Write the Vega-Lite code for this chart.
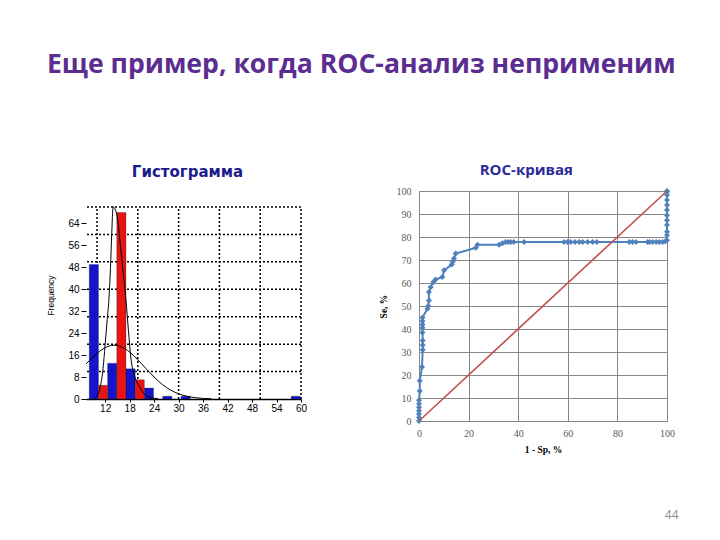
{
  "$schema": "https://vega.github.io/schema/vega-lite/v6.json",
  "background": "white",
  "padding": {"left": 46, "top": 52, "right": 0, "bottom": 0},
  "title": {
    "text": "Еще пример, когда ROC-анализ неприменим",
    "font": "Open Sans",
    "fontSize": 26.6,
    "fontWeight": "bold",
    "color": "#5b2d90",
    "anchor": "start",
    "frame": "bounds",
    "offset": 84
  },
  "datasets": {
    "hist": [
      {"start": 8.1, "end": 10.35, "count": 49, "group": "A"},
      {"start": 12.6, "end": 14.85, "count": 13, "group": "A"},
      {"start": 17.1, "end": 19.35, "count": 11, "group": "A"},
      {"start": 21.6, "end": 23.85, "count": 4, "group": "A"},
      {"start": 26.1, "end": 28.35, "count": 1, "group": "A"},
      {"start": 30.6, "end": 32.85, "count": 1, "group": "A"},
      {"start": 57.6, "end": 59.85, "count": 1, "group": "A"},
      {"start": 10.35, "end": 12.6, "count": 5, "group": "B"},
      {"start": 14.85, "end": 17.1, "count": 68, "group": "B"},
      {"start": 19.35, "end": 21.6, "count": 7, "group": "B"}
    ],
    "curves": [
      {"x": 7.3, "y": 12.8, "curve": "A"},
      {"x": 9, "y": 15.2, "curve": "A"},
      {"x": 11, "y": 17.8, "curve": "A"},
      {"x": 13, "y": 19.3, "curve": "A"},
      {"x": 14.2, "y": 19.6, "curve": "A"},
      {"x": 16, "y": 19.0, "curve": "A"},
      {"x": 18, "y": 17.1, "curve": "A"},
      {"x": 20, "y": 14.3, "curve": "A"},
      {"x": 22, "y": 11.1, "curve": "A"},
      {"x": 24, "y": 8.0, "curve": "A"},
      {"x": 26, "y": 5.3, "curve": "A"},
      {"x": 28, "y": 3.3, "curve": "A"},
      {"x": 30, "y": 1.9, "curve": "A"},
      {"x": 32, "y": 1.0, "curve": "A"},
      {"x": 34, "y": 0.5, "curve": "A"},
      {"x": 36, "y": 0.2, "curve": "A"},
      {"x": 38, "y": 0.1, "curve": "A"},
      {"x": 9.6, "y": 0.3, "curve": "B"},
      {"x": 10.3, "y": 2, "curve": "B"},
      {"x": 10.8, "y": 4.6, "curve": "B"},
      {"x": 11.4, "y": 10, "curve": "B"},
      {"x": 12.0, "y": 20, "curve": "B"},
      {"x": 12.5, "y": 29, "curve": "B"},
      {"x": 12.9, "y": 36, "curve": "B"},
      {"x": 13.3, "y": 48, "curve": "B"},
      {"x": 13.6, "y": 60, "curve": "B"},
      {"x": 13.95, "y": 70, "curve": "B"},
      {"x": 14.4, "y": 69.3, "curve": "B"},
      {"x": 15.0, "y": 66, "curve": "B"},
      {"x": 15.8, "y": 55, "curve": "B"},
      {"x": 16.5, "y": 45, "curve": "B"},
      {"x": 17.1, "y": 36, "curve": "B"},
      {"x": 17.7, "y": 25, "curve": "B"},
      {"x": 18.3, "y": 15, "curve": "B"},
      {"x": 19.3, "y": 8, "curve": "B"},
      {"x": 20.4, "y": 4.5, "curve": "B"},
      {"x": 21.5, "y": 2, "curve": "B"},
      {"x": 23, "y": 0.6, "curve": "B"},
      {"x": 25, "y": 0.1, "curve": "B"}
    ],
    "gridV": [{"v": 10}, {"v": 20}, {"v": 30}, {"v": 40}, {"v": 50}, {"v": 60}],
    "gridH": [{"h": 10}, {"h": 20}, {"h": 30}, {"h": 40}, {"h": 50}, {"h": 60}, {"h": 70}],
    "roc": [
      {"fpr": 0, "se": 0}, {"fpr": 0, "se": 1.5}, {"fpr": 0, "se": 3}, {"fpr": 0, "se": 4.5},
      {"fpr": 0, "se": 6}, {"fpr": 0, "se": 7.5}, {"fpr": 0, "se": 9}, {"fpr": 0.3, "se": 13},
      {"fpr": 0.3, "se": 17.5}, {"fpr": 1.2, "se": 23.5}, {"fpr": 1.5, "se": 31}, {"fpr": 1.5, "se": 33},
      {"fpr": 1.5, "se": 35}, {"fpr": 1.4, "se": 38.5}, {"fpr": 1.4, "se": 40.5}, {"fpr": 1.4, "se": 42},
      {"fpr": 1.4, "se": 43.5}, {"fpr": 1.4, "se": 45}, {"fpr": 3.4, "se": 48.8}, {"fpr": 3.7, "se": 50},
      {"fpr": 4.0, "se": 52.4}, {"fpr": 4.0, "se": 56.1}, {"fpr": 4.7, "se": 58.2}, {"fpr": 5.8, "se": 60.4},
      {"fpr": 6.7, "se": 61.5}, {"fpr": 9.4, "se": 62.6}, {"fpr": 10.1, "se": 65.5}, {"fpr": 13.2, "se": 68},
      {"fpr": 13.6, "se": 69.2}, {"fpr": 14.1, "se": 70.6}, {"fpr": 14.8, "se": 72.8}, {"fpr": 22.9, "se": 75.3},
      {"fpr": 23.6, "se": 76.6}, {"fpr": 32.3, "se": 76.6}, {"fpr": 33.7, "se": 77.3}, {"fpr": 35.0, "se": 77.8},
      {"fpr": 36.0, "se": 77.8}, {"fpr": 37.0, "se": 77.8}, {"fpr": 38.2, "se": 77.8}, {"fpr": 42.4, "se": 77.8},
      {"fpr": 58.5, "se": 77.8}, {"fpr": 59.9, "se": 77.8}, {"fpr": 61.2, "se": 77.8}, {"fpr": 62.9, "se": 77.8},
      {"fpr": 64.6, "se": 77.8}, {"fpr": 66.0, "se": 77.8}, {"fpr": 68.0, "se": 77.8}, {"fpr": 70.0, "se": 77.8},
      {"fpr": 71.7, "se": 77.8}, {"fpr": 84.8, "se": 77.8}, {"fpr": 86.1, "se": 77.8}, {"fpr": 87.5, "se": 77.8},
      {"fpr": 92.2, "se": 77.8}, {"fpr": 92.9, "se": 77.8}, {"fpr": 94.2, "se": 77.8}, {"fpr": 95.6, "se": 77.8},
      {"fpr": 96.9, "se": 77.8}, {"fpr": 98.3, "se": 77.8}, {"fpr": 99.3, "se": 78.2}, {"fpr": 100, "se": 78.6},
      {"fpr": 100, "se": 80.8}, {"fpr": 100, "se": 82.3}, {"fpr": 100, "se": 85.2}, {"fpr": 100, "se": 87.3},
      {"fpr": 100, "se": 89.5}, {"fpr": 100, "se": 91.7}, {"fpr": 100, "se": 93.9}, {"fpr": 100, "se": 96.1},
      {"fpr": 100, "se": 98.3}, {"fpr": 100, "se": 99.7}, {"fpr": 100, "se": 100}
    ],
    "diag": [{"fpr": 0, "se": 0}, {"fpr": 100, "se": 100}]
  },
  "vconcat": [
    {
      "title": {
        "text": "44",
        "orient": "bottom",
        "anchor": "end",
        "frame": "bounds",
        "font": "Open Sans",
        "fontSize": 12,
        "fontWeight": "normal",
        "color": "#8c8c8c",
        "offset": 56,
        "dx": 4
      },
      "spacing": 71,
      "hconcat": [
        {
          "width": 215,
          "height": 208,
          "title": {
            "text": "Гистограмма",
            "font": "DejaVu Sans",
            "fontSize": 15,
            "fontWeight": "bold",
            "color": "#1c1c8c",
            "anchor": "middle",
            "frame": "group",
            "dx": -6,
            "offset": 11
          },
          "layer": [
            {
              "data": {"name": "gridV"},
              "mark": {"type": "rule", "color": "#000000", "strokeWidth": 1.5, "strokeDash": [2, 2]},
              "encoding": {
                "x": {"field": "v", "type": "quantitative", "scale": {"domain": [7.3, 60], "nice": false, "zero": false}},
                "y": {"datum": 0, "type": "quantitative", "scale": {"domain": [0, 75.83], "nice": false}},
                "y2": {"datum": 70}
              }
            },
            {
              "data": {"name": "gridH"},
              "mark": {"type": "rule", "color": "#000000", "strokeWidth": 1.5, "strokeDash": [2, 2]},
              "encoding": {
                "y": {"field": "h", "type": "quantitative", "scale": {"domain": [0, 75.83], "nice": false}}
              }
            },
            {
              "data": {"name": "hist"},
              "mark": {"type": "bar", "stroke": "#000000", "strokeWidth": 0.5, "strokeOpacity": 0.5},
              "encoding": {
                "x": {
                  "field": "start", "type": "quantitative",
                  "scale": {"domain": [7.3, 60], "nice": false, "zero": false},
                  "axis": {
                    "values": [12, 18, 24, 30, 36, 42, 48, 54, 60], "tickCount": 30,
                    "title": null, "grid": false, "labelOverlap": false,
                    "domainColor": "#000000", "domainWidth": 1.5,
                    "tickColor": "#000000", "tickSize": 3,
                    "labelPadding": 1, "labelFont": "Liberation Sans", "labelFontSize": 10,
                    "labelColor": "#000000"
                  }
                },
                "x2": {"field": "end"},
                "y": {
                  "field": "count", "type": "quantitative",
                  "scale": {"domain": [0, 75.83], "nice": false},
                  "axis": {
                    "values": [0, 8, 16, 24, 32, 40, 48, 56, 64], "tickCount": 30,
                    "title": "Frequency", "grid": false, "labelOverlap": false,
                    "domain": false,
                    "tickColor": "#000000", "tickSize": 5,
                    "labelPadding": 2, "labelFont": "Liberation Sans", "labelFontSize": 10,
                    "labelColor": "#000000",
                    "titleFont": "Liberation Sans", "titleFontSize": 8.5, "titleFontWeight": "normal",
                    "titleColor": "#000000", "titlePadding": 12
                  }
                },
                "y2": {"datum": 0},
                "color": {
                  "field": "group", "type": "nominal",
                  "scale": {"domain": ["A", "B"], "range": ["#1414c8", "#e81414"]},
                  "legend": null
                }
              }
            },
            {
              "mark": {"type": "rule", "color": "#000000", "strokeWidth": 1.5},
              "encoding": {
                "x": {"datum": 7.3, "type": "quantitative", "scale": {"domain": [7.3, 60], "nice": false, "zero": false}},
                "y": {"datum": 0, "type": "quantitative", "scale": {"domain": [0, 75.83], "nice": false}},
                "y2": {"datum": 70}
              }
            },
            {
              "data": {"name": "curves"},
              "mark": {"type": "line", "color": "#000000", "strokeWidth": 1, "interpolate": "monotone", "clip": true},
              "encoding": {
                "x": {"field": "x", "type": "quantitative", "scale": {"domain": [7.3, 60], "nice": false, "zero": false}},
                "y": {"field": "y", "type": "quantitative", "scale": {"domain": [0, 75.83], "nice": false}},
                "detail": {"field": "curve", "type": "nominal"}
              }
            }
          ]
        },
        {
          "width": 248,
          "height": 230,
          "title": {
            "text": "ROC-кривая",
            "font": "Open Sans",
            "fontSize": 15,
            "fontWeight": "bold",
            "color": "#2a2a9a",
            "anchor": "middle",
            "frame": "bounds",
            "offset": 8
          },
          "layer": [
            {
              "data": {"name": "roc"},
              "mark": {
                "type": "line", "color": "#4f81bd", "strokeWidth": 2,
                "point": {"shape": "diamond", "filled": true, "size": 36, "color": "#4f81bd"}
              },
              "encoding": {
                "x": {
                  "field": "fpr", "type": "quantitative",
                  "scale": {"domain": [0, 100], "nice": false},
                  "axis": {
                    "values": [0, 20, 40, 60, 80, 100], "tickCount": 30,
                    "title": "1 - Sp, %", "labelOverlap": false,
                    "grid": true, "gridColor": "#868686", "gridWidth": 1,
                    "domainColor": "#868686", "ticks": false,
                    "labelPadding": 7, "labelFont": "Liberation Serif", "labelFontSize": 10,
                    "labelColor": "#595959",
                    "titleFont": "Liberation Serif", "titleFontSize": 9.5, "titleFontWeight": "bold",
                    "titleColor": "#000000", "titlePadding": 6
                  }
                },
                "y": {
                  "field": "se", "type": "quantitative",
                  "scale": {"domain": [0, 100], "nice": false},
                  "axis": {
                    "values": [0, 10, 20, 30, 40, 50, 60, 70, 80, 90, 100], "tickCount": 30,
                    "title": "Se, %", "labelOverlap": false,
                    "grid": true, "gridColor": "#868686", "gridWidth": 1,
                    "domainColor": "#868686", "ticks": false,
                    "labelPadding": 8, "labelFont": "Liberation Serif", "labelFontSize": 10,
                    "labelColor": "#595959",
                    "titleFont": "Liberation Serif", "titleFontSize": 9.5, "titleFontWeight": "bold",
                    "titleColor": "#000000", "titlePadding": 8
                  }
                },
                "order": {"value": null}
              }
            },
            {
              "data": {"name": "diag"},
              "mark": {"type": "line", "color": "#c0504d", "strokeWidth": 1.6},
              "encoding": {
                "x": {"field": "fpr", "type": "quantitative", "scale": {"domain": [0, 100], "nice": false}},
                "y": {"field": "se", "type": "quantitative", "scale": {"domain": [0, 100], "nice": false}}
              }
            }
          ]
        }
      ]
    }
  ],
  "config": {
    "view": {"stroke": null},
    "axis": {"labelOverlap": false, "labelFlush": false}
  }
}
